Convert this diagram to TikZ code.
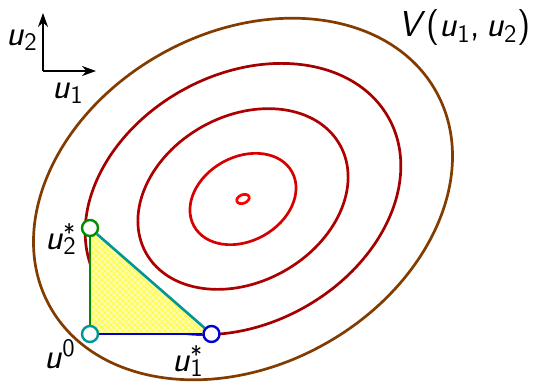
\documentclass[tikz,border=0pt]{standalone}
\usetikzlibrary{arrows.meta,patterns}
\newcommand\uu{\textit{u}}
\newcommand\subsup[2]{\rlap{\raisebox{0.55ex}{\fontsize{12}{12}\selectfont #2}}\textsubscript{#1}}
\definecolor{brownc}{RGB}{130,60,0}
\definecolor{darkredc}{RGB}{165,0,0}
\definecolor{redc}{RGB}{215,0,0}
\definecolor{tinyred}{RGB}{255,0,0}
\definecolor{tealc}{RGB}{0,150,150}
\definecolor{greenc}{RGB}{0,140,0}
\definecolor{bluec}{RGB}{0,0,210}
\begin{document}
\begin{tikzpicture}[x=0.5pt,y=0.5pt,
  lbl/.style={font=\sffamily\fontsize{18}{20}\selectfont, inner sep=0pt},
  contour/.style={line width=1.35pt},
  pt/.style={circle, draw, line width=1.2pt, minimum size=8pt, inner sep=0pt, fill=white},
  seg/.style={line width=1.3pt},
  axisarrow/.style={line width=1.1pt, -{Stealth[length=7pt,width=5pt]}}]
\useasboundingbox (0,0) rectangle (537,-382);
\coordinate (c) at (243,-199);
% contours
\draw[contour, brownc, rotate around={29:(c)}] (c) ellipse [x radius=221, y radius=166.5];
\draw[contour, darkredc, rotate around={29:(c)}] (c) ellipse [x radius=166.7, y radius=124.5];
\draw[contour, darkredc!90!red, rotate around={29:(c)}] (c) ellipse [x radius=111, y radius=83];
\draw[contour, redc, rotate around={29:(c)}] (c) ellipse [x radius=56, y radius=42];
\draw[contour, tinyred, rotate around={22:(c)}] (c) ellipse [x radius=6.5, y radius=4.3];
% axes
\coordinate (o) at (43,-71);
\coordinate (ax1) at (96,-71);
\coordinate (ax2) at (43,-13);
\draw[axisarrow] (o) -- (ax1);
\draw[axisarrow] (o) -- (ax2);
\node[lbl] (lu2) at (22,-40) {\uu\textsubscript{2}};
\node[lbl] (lu1) at (68,-93) {\uu\textsubscript{1}};
% points
\coordinate (p0) at (90,-334);
\coordinate (p1) at (211.5,-334);
\coordinate (p2) at (90,-228);
\fill[yellow!30] (p0) -- (p1) -- (p2) -- cycle;
\fill[pattern=crosshatch, pattern color=yellow!75] (p0) -- (p1) -- (p2) -- cycle;
\node[pt, draw=tealc] (u0) at (p0) {};
\node[pt, draw=bluec] (u1) at (p1) {};
\node[pt, draw=greenc] (u2) at (p2) {};
\draw[seg, greenc] (u2) -- (u0);
\draw[seg, bluec] (u0) -- (u1);
\draw[seg, tealc] (u2) -- (u1);
% labels
\node[lbl] (lu2s) at (61,-239) {\uu\subsup{2}{*}};
\node[lbl] (lu0) at (60,-354) {\uu\textsuperscript{0}};
\node[lbl] (lu1s) at (188,-361) {\uu\subsup{1}{*}};
\node[lbl, anchor=east] (lV) at (531,-28) {\textit{V}(\uu\textsubscript{1},\,\uu\textsubscript{2})};
\end{tikzpicture}
\end{document}
